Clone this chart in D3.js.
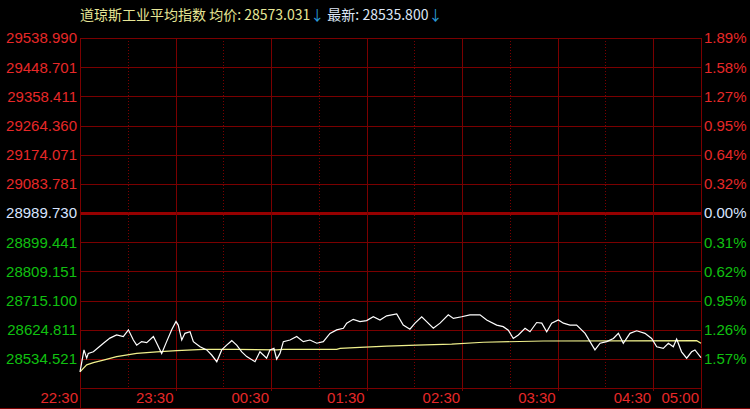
<!DOCTYPE html>
<html>
<head>
<meta charset="utf-8">
<script src="https://cdn.jsdelivr.net/npm/d3@7"></script>
<style>
  html, body { margin: 0; padding: 0; background: #000; }
  svg { display: block; }
  .lbl { font-family: "Liberation Sans", Arial, sans-serif; font-size: 15px; }
</style>
</head>
<body>
<svg id="chart"></svg>
<script>
// index name and header values
var title = '道琼斯工业平均指数';
var avgValue = '28573.031', lastValue = '28535.800';

// price axis labels (left) and change % (right), top to bottom
var priceLabels = ['29538.990','29448.701','29358.411','29264.360','29174.071','29083.781',
                   '28989.730','28899.441','28809.151','28715.100','28624.811','28534.521'];
var pctLabels = ['1.89%','1.58%','1.27%','0.95%','0.64%','0.32%',
                 '0.00%','0.31%','0.62%','0.95%','1.26%','1.57%'];
var prevClose = 28989.73, topPrice = 29538.99;

// time axis: minutes after 22:30
var timeTicks = [0, 60, 120, 180, 240, 300, 360, 390];
var timeLabels = ['22:30','23:30','00:30','01:30','02:30','03:30','04:30','05:00'];
var halfHours = [30, 90, 150, 210, 270, 330];

// price line (minute, price)
var priceTimes = [0, 2.5, 4.2, 5.2, 8.4, 14.7, 18.8, 23.0, 27.2, 30.4, 33.5, 35.6, 38.7, 41.9,
  46.1, 48.2, 51.3, 54.4, 57.6, 60.3, 61.7, 63.9, 65.9, 69.1, 71.2, 75.4, 79.6, 82.7, 85.9,
  89.0, 92.1, 95.3, 98.4, 101.6, 104.7, 109.9, 113.0, 117.2, 119.3, 121.8, 123.5, 125.6,
  127.7, 131.9, 136.1, 140.2, 144.4, 148.7, 152.8, 157.0, 161.2, 165.4, 167.5, 171.6, 175.8,
  180.0, 184.2, 188.4, 192.6, 198.9, 203.0, 207.2, 210.4, 214.6, 217.7, 221.9, 226.1, 231.3,
  234.5, 239.7, 244.9, 251.2, 255.4, 261.7, 265.8, 269.0, 272.1, 275.3, 279.5, 282.6, 286.8,
  290.0, 293.1, 296.2, 300.4, 303.6, 307.7, 311.9, 317.2, 320.3, 323.4, 326.6, 330.8, 335.0,
  338.1, 341.2, 345.4, 349.6, 354.8, 359.0, 362.2, 366.3, 369.5, 372.6, 374.7, 377.8, 381.0,
  384.1, 386.2, 390];
var prices = [28491, 28560, 28534, 28549, 28554, 28581, 28597, 28607, 28602, 28623, 28591,
  28575, 28586, 28583, 28602, 28581, 28549, 28586, 28623, 28649, 28638, 28591, 28612, 28617,
  28586, 28570, 28560, 28544, 28523, 28560, 28575, 28589, 28575, 28554, 28539, 28523, 28554,
  28534, 28560, 28565, 28531, 28549, 28586, 28591, 28602, 28586, 28591, 28581, 28586, 28612,
  28623, 28628, 28644, 28656, 28649, 28652, 28664, 28654, 28667, 28673, 28638, 28625, 28644,
  28664, 28649, 28628, 28644, 28670, 28659, 28664, 28670, 28670, 28654, 28638, 28633, 28622,
  28596, 28607, 28628, 28617, 28646, 28644, 28617, 28644, 28654, 28644, 28638, 28638, 28612,
  28586, 28560, 28581, 28586, 28596, 28612, 28581, 28612, 28620, 28612, 28596, 28570, 28565,
  28581, 28570, 28594, 28554, 28534, 28554, 28560, 28536];

// average line (minute, price)
var avgTimes = [0, 4.2, 8.4, 14.7, 23.0, 35.6, 48.2, 60.7, 77.5, 98.4, 123.5, 127.7, 161.2,
  163.3, 175.8, 192.6, 211.4, 233.4, 253.3, 291.0, 387.3, 390];
var avgPrices = [28491, 28513, 28520, 28528, 28539, 28549, 28554, 28558, 28562, 28562, 28560,
  28562, 28562, 28565, 28568, 28572, 28575, 28578, 28584, 28588, 28589, 28581];

var width = 750, height = 409,
    plotLeft = 80, plotRight = 701, plotTop = 38, plotBottom = 388,
    gridColor = '#7a0000',
    red = '#e62828', green = '#10c010', flat = '#d8e4ff';

var svg = d3.select('#chart').attr('width', width).attr('height', height);

var x = d3.scaleLinear().domain([0, 390]).range([plotLeft, plotRight]),
    step = (topPrice - prevClose) / 6,
    y = d3.scaleLinear().domain([prevClose - 6 * step, topPrice]).range([plotBottom, plotTop]);

var gridPrices = d3.range(13).map(function(i){ return topPrice - i * step; });

function colorFor(i){ return i < 6 ? red : (i == 6 ? flat : green); }

// horizontal grid
svg.append('g').selectAll('line')
  .data(gridPrices).enter()
  .append('line')
    .attr('x1', plotLeft).attr('x2', plotRight)
    .attr('y1', function(d){ return Math.round(y(d)) + 0.5; })
    .attr('y2', function(d){ return Math.round(y(d)) + 0.5; })
    .attr('stroke', function(d, i){ return i == 6 ? '#960000' : gridColor; })
    .attr('stroke-width', function(d, i){ return i == 6 ? 3 : 1; });

// dotted half hour lines
svg.append('g').selectAll('line')
  .data(halfHours).enter()
  .append('line')
    .attr('x1', function(d){ return Math.round(x(d)) + 0.5; })
    .attr('x2', function(d){ return Math.round(x(d)) + 0.5; })
    .attr('y1', plotTop).attr('y2', plotBottom)
    .attr('stroke', gridColor)
    .attr('stroke-dasharray', '1,2');

// solid hour lines
svg.append('g').selectAll('line')
  .data(timeTicks.slice(1, 7)).enter()
  .append('line')
    .attr('x1', function(d){ return Math.round(x(d)) + 0.5; })
    .attr('x2', function(d){ return Math.round(x(d)) + 0.5; })
    .attr('y1', plotTop).attr('y2', plotBottom + 3)
    .attr('stroke', gridColor);

// frame
svg.append('line').attr('x1', plotLeft + 0.5).attr('x2', plotLeft + 0.5)
  .attr('y1', plotTop).attr('y2', height).attr('stroke', gridColor);
svg.append('line').attr('x1', plotRight + 0.5).attr('x2', plotRight + 0.5)
  .attr('y1', plotTop).attr('y2', height).attr('stroke', gridColor);
svg.append('line').attr('x1', 0).attr('x2', width)
  .attr('y1', height - 0.5).attr('y2', height - 0.5).attr('stroke', gridColor);

// left price labels
svg.append('g').selectAll('text')
  .data(priceLabels).enter()
  .append('text')
    .attr('class', 'lbl')
    .attr('x', plotLeft - 3)
    .attr('y', function(d, i){ return y(gridPrices[i]); })
    .attr('dy', '0.36em')
    .attr('text-anchor', 'end')
    .attr('fill', function(d, i){ return colorFor(i); })
    .text(function(d){ return d; });

// right percentage labels
svg.append('g').selectAll('text')
  .data(pctLabels).enter()
  .append('text')
    .attr('class', 'lbl')
    .attr('x', plotRight + 3)
    .attr('y', function(d, i){ return y(gridPrices[i]); })
    .attr('dy', '0.36em')
    .attr('fill', function(d, i){ return colorFor(i); })
    .text(function(d){ return d; });

// time labels
svg.append('g').selectAll('text')
  .data(timeLabels).enter()
  .append('text')
    .attr('class', 'lbl')
    .attr('x', function(d, i){ return x(timeTicks[i]) - 2; })
    .attr('y', 398)
    .attr('dy', '0.36em')
    .attr('text-anchor', 'end')
    .attr('fill', red)
    .text(function(d){ return d; });

// average and price lines
var avgLine = d3.line()
  .x(function(d, i){ return x(avgTimes[i]); })
  .y(function(d){ return y(d); });
var priceLine = d3.line()
  .x(function(d, i){ return x(priceTimes[i]); })
  .y(function(d){ return y(d); });

svg.append('path')
  .attr('d', avgLine(avgPrices))
  .attr('fill', 'none')
  .attr('stroke', '#f0f08c')
  .attr('stroke-width', 1.2);

svg.append('path')
  .attr('d', priceLine(prices))
  .attr('fill', 'none')
  .attr('stroke', '#ffffff')
  .attr('stroke-width', 1.2);

// header
var head = svg.append('text')
  .attr('x', plotLeft)
  .attr('y', 20)
  .style('font-family', '"Noto Sans CJK SC", "Liberation Sans", sans-serif')
  .style('font-size', '14px');
head.append('tspan').attr('fill', '#e6e696').text(title + ' 均价: ' + avgValue);
head.append('tspan').attr('fill', '#2a9ad8').text('↓');
head.append('tspan').attr('fill', '#dde6f6').text(' 最新: ' + lastValue);
head.append('tspan').attr('fill', '#2a9ad8').text('↓');
</script>
</body>
</html>
